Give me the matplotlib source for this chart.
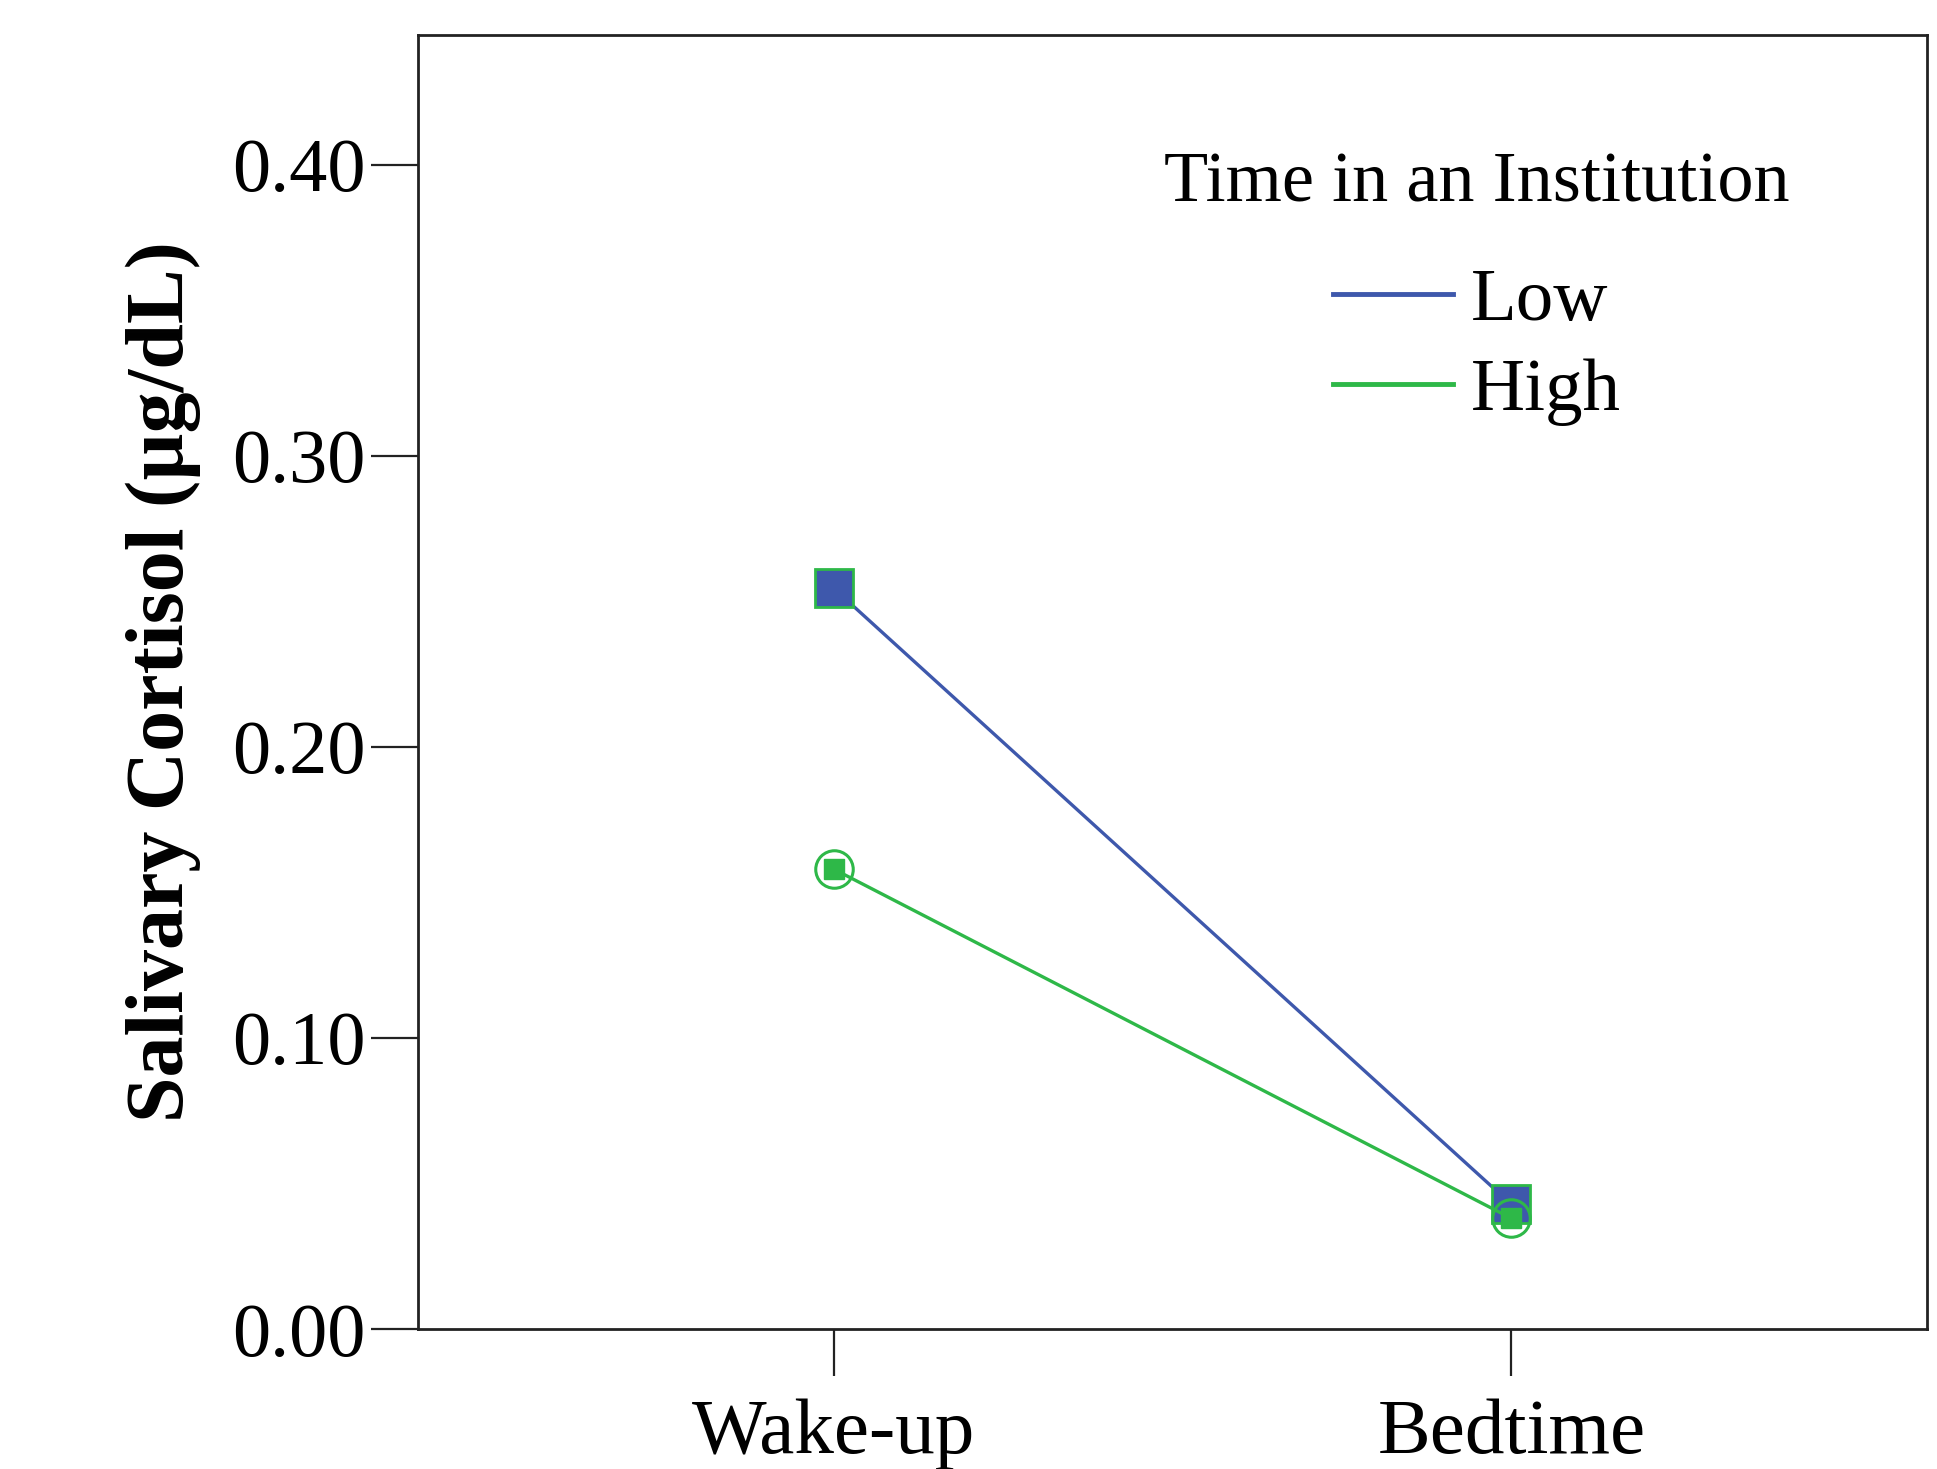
import matplotlib
matplotlib.use('Agg')
import matplotlib.pyplot as plt
from matplotlib.lines import Line2D

# data
times = ['Wake-up', 'Bedtime']
low_vals = [0.2545, 0.0428]
high_vals = [0.158, 0.038]
series_names = ['Low', 'High']
y_ticks = [0.0, 0.1, 0.2, 0.3, 0.4]

blue = '#3E58AC'
green = '#2EB848'

plt.rcParams['font.family'] = ['Liberation Serif', 'DejaVu Serif']

fig = plt.figure(figsize=(19.37, 14.69), dpi=100)
ax = fig.add_axes([0.2158, 0.0953, 0.779, 0.8809])

x = list(range(len(times)))

# Low group: blue squares with thin green edge
ax.plot(x, low_vals, color=blue, lw=2.4, marker='s', ms=28,
        mfc=blue, mec=green, mew=2, zorder=3)
# High group: hollow circle with small filled square inside
ax.plot(x, high_vals, color=green, lw=2.4, marker='o', ms=27,
        mfc='none', mec=green, mew=2.2, zorder=4)
ax.plot(x, high_vals, ls='none', marker='s', ms=15,
        mfc=green, mec=green, zorder=5)

ax.set_xlim(-0.613, 1.613)
ax.set_ylim(0, 0.4445)
ax.set_xticks(x)
ax.set_xticklabels(times)
ax.set_yticks(y_ticks)
ax.set_yticklabels(['%.2f' % v for v in y_ticks])

ax.tick_params(axis='both', direction='out', length=34, width=1.6,
               labelsize=55, color='#222222', pad=4)
ax.tick_params(axis='x', labelsize=57, pad=16)
for s in ax.spines.values():
    s.set_linewidth(2)
    s.set_color('#222222')

ax.set_ylabel('Salivary Cortisol (µg/dL)', fontsize=59, fontweight='bold',
              labelpad=22)

handles = [Line2D([], [], color=blue, lw=3.5),
           Line2D([], [], color=green, lw=3.5)]
leg = ax.legend(handles, series_names, title='Time in an Institution',
                loc='upper center', bbox_to_anchor=(0.7625, 0.943),
                bbox_transform=fig.transFigure, frameon=False,
                fontsize=54, title_fontsize=52, handlelength=1.6,
                handletextpad=0.25, labelspacing=0.29)
leg._legend_box.sep = 37

fig.savefig('out.png', dpi=100)
